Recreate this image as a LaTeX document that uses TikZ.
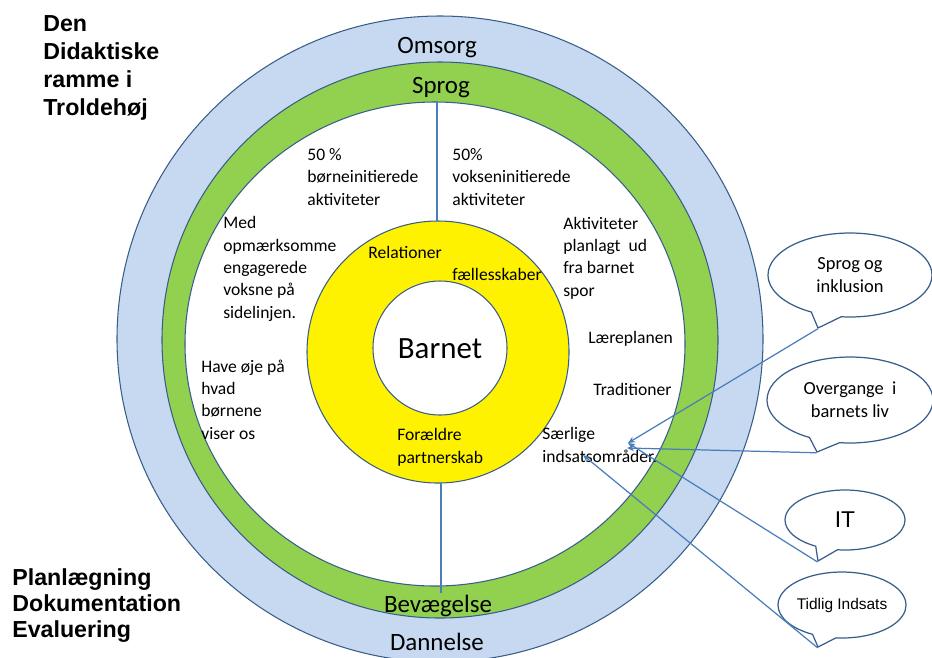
\documentclass[tikz,border=0pt]{standalone}
\usepackage{fontspec}
\setmainfont{Carlito}
\newfontfamily\arialfont{Liberation Sans}
\usetikzlibrary{shapes.callouts,arrows.meta}
\definecolor{ringblue}{RGB}{198,217,241}
\definecolor{ringgreen}{RGB}{146,208,80}
\definecolor{rimblue}{RGB}{56,93,138}
\definecolor{linkblue}{RGB}{74,126,187}

\begin{document}
\begin{tikzpicture}[x=0.02cm,y=-0.02cm,
  rim/.style={draw=rimblue,line width=0.6pt},
  ringlabel/.style={anchor=base,inner sep=0pt,font=\fontsize{14.2}{17}\selectfont},
  smalltext/.style={anchor=base west,inner sep=0pt,align=left,font=\fontsize{10}{12.7}\selectfont},
  heading/.style={anchor=base west,inner sep=0pt,align=left,font=\arialfont\bfseries\fontsize{13.2}{15.9}\selectfont},
  bubble/.style={ellipse callout,draw=rimblue,line width=0.7pt,fill=white,align=center,inner sep=0pt,callout pointer arc=22},
  link/.style={draw=linkblue,line width=0.7pt,-{Stealth[length=4pt,width=3.5pt]}}]
\useasboundingbox (0,0) rectangle (932,657);
\clip (0,0) rectangle (932,657);
\draw [rim,fill=ringblue] (440,339) circle [radius=323];
\draw [rim,fill=ringgreen] (440,340) circle [radius=278];
\draw [rim,fill=white] (435,344) ellipse [x radius=250, y radius=242];
\draw [rim,fill=yellow] (438,352) circle [radius=131];
\draw [rim,fill=white] (440,348) circle [radius=67];
\draw [draw=linkblue,line width=0.7pt] (437,101) -- (437,221);
\draw [draw=linkblue,line width=0.7pt] (441,483) -- (441,593);
\node [heading] (title) at (43,115) {Den\\Didaktiske\\ramme i\\Troldehøj};
\node [heading,font=\arialfont\bfseries\fontsize{13.2}{14.7}\selectfont] (plan) at (12,637) {Planlægning\\Dokumentation\\Evaluering};
\node [ringlabel] (omsorg) at (437,53) {Omsorg};
\node [ringlabel] (sprog) at (441,93) {Sprog};
\node [ringlabel] (bevaegelse) at (438,612) {Bevægelse};
\node [ringlabel] (dannelse) at (437,650) {Dannelse};
\node [anchor=base,inner sep=0pt,font=\fontsize{17.6}{20}\selectfont] (barnet) at (440,358) {Barnet};
\node [smalltext] (boern) at (307,205) {50 \%\\børneinitierede\\aktiviteter};
\node [smalltext] (voksen) at (452,205) {50\%\\vokseninitierede\\aktiviteter};
\node [smalltext] (med) at (223,318) {Med\\opmærksomme\\engagerede\\voksne på\\sidelinjen.};
\node [smalltext] (have) at (201,439) {Have øje på\\hvad\\børnene\\viser os};
\node [smalltext] (aktiv) at (563,296) {Aktiviteter\\planlagt\ \ ud\\fra barnet\\spor};
\node [smalltext] (laere) at (588,343) {Læreplanen};
\node [smalltext] (trad) at (593,395) {Traditioner};
\node [smalltext] (saerlige) at (542,462) {Særlige\\indsatsområder.};
\node [smalltext] (rel) at (368,258) {Relationer};
\node [smalltext] (faelles) at (452,280) {fællesskaber};
\node [smalltext] (foraeldre) at (397,463) {Forældre\\partnerskab};
\node [bubble,minimum width=3.28cm,minimum height=1.68cm,callout absolute pointer={(818,328)},font=\fontsize{10.5}{13}\selectfont] (inkl) at (850,275) {Sprog og\\inklusion};
\node [bubble,minimum width=3.32cm,minimum height=1.72cm,callout absolute pointer={(817,452)},font=\fontsize{10.5}{13}\selectfont] (overgange) at (850,400) {Overgange\ \ i\\barnets liv};
\node [bubble,minimum width=2.4cm,minimum height=1.2cm,callout absolute pointer={(818,561)},font=\arialfont\fontsize{13}{15}\selectfont] (it) at (845,520) {IT};
\node [bubble,minimum width=2.44cm,minimum height=1.32cm,callout absolute pointer={(818,647)},font=\arialfont\fontsize{8.8}{10}\selectfont] (tidlig) at (842,605) {Tidlig Indsats};
\coordinate (spot) at (628,443);
\coordinate (spotlow) at (583,455);
\draw [link] (inkl.pointer) -- (spot);
\draw [link] (overgange.pointer) -- (627,448);
\draw [link] (it.pointer) -- (spot);
\draw [link] (tidlig.pointer) -- (spotlow);
\end{tikzpicture}
\end{document}
